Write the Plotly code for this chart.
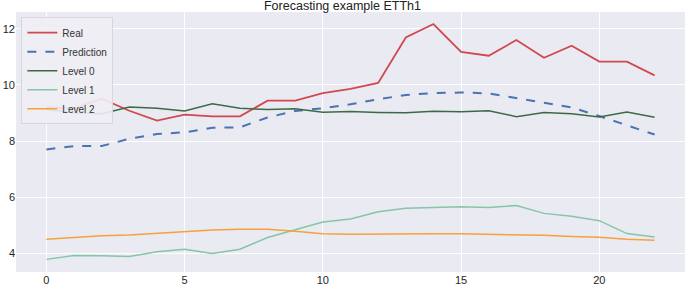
import plotly.graph_objects as go

steps = list(range(23))
real = [9.22, 9.16, 9.51, 9.08, 8.73, 8.94, 8.88, 8.88, 9.44, 9.44, 9.71, 9.86, 10.07,
        11.69, 12.17, 11.18, 11.04, 11.60, 10.97, 11.40, 10.83, 10.83, 10.34]
prediction = [7.70, 7.82, 7.82, 8.08, 8.25, 8.31, 8.47, 8.49, 8.84, 9.07, 9.17, 9.31, 9.49,
              9.64, 9.71, 9.73, 9.70, 9.54, 9.38, 9.20, 8.89, 8.55, 8.23]
level0 = [9.12, 9.01, 8.97, 9.21, 9.17, 9.07, 9.33, 9.17, 9.12, 9.15, 9.03, 9.05, 9.02,
          9.01, 9.06, 9.04, 9.08, 8.87, 9.02, 8.97, 8.86, 9.03, 8.85]
level1 = [3.78, 3.92, 3.91, 3.88, 4.05, 4.14, 3.99, 4.14, 4.56, 4.84, 5.11, 5.22, 5.48,
          5.60, 5.62, 5.66, 5.63, 5.70, 5.42, 5.32, 5.16, 4.70, 4.58]
level2 = [4.50, 4.57, 4.62, 4.65, 4.71, 4.78, 4.83, 4.85, 4.85, 4.78, 4.69, 4.68, 4.69,
          4.69, 4.69, 4.69, 4.68, 4.66, 4.64, 4.60, 4.57, 4.50, 4.46]
x_ticks = [0, 5, 10, 15, 20]
y_ticks = [4, 6, 8, 10, 12]

series = [
    ("Real", real, "#D0494E", "solid", 1.8),
    ("Prediction", prediction, "#4C72B0", "dash", 2.0),
    ("Level 0", level0, "#3B6B45", "solid", 1.5),
    ("Level 1", level1, "#84C6A6", "solid", 1.5),
    ("Level 2", level2, "#F7A03C", "solid", 1.5),
]

FONT = "Liberation Sans, Arial, sans-serif"

fig = go.Figure()
for name, vals, color, dash, w in series:
    fig.add_trace(go.Scatter(x=steps, y=vals, mode="lines", name=name,
                             line=dict(color=color, dash=dash, width=w)))

fig.update_layout(
    width=685, height=285,
    margin=dict(l=16, r=0, t=12, b=13),
    paper_bgcolor="white",
    plot_bgcolor="#EAEAF2",
    font=dict(family=FONT, size=11, color="#262626"),
    title=dict(text="Forecasting example ETTh1", x=0.5, xanchor="center",
               y=1 - 6 / 285, yanchor="middle", yref="container",
               font=dict(family=FONT, size=12.5, color="#222222")),
    showlegend=True,
    legend=dict(x=0.008, y=0.98, xanchor="left", yanchor="top",
                bgcolor="rgba(238,238,244,0.9)", bordercolor="#D6D6DE", borderwidth=1,
                font=dict(family=FONT, size=10, color="#333333"), tracegroupgap=0),
)
fig.update_xaxes(range=[-1.1, 23.1], tickvals=x_ticks,
                 showgrid=True, gridcolor="white", gridwidth=1, zeroline=False,
                 showline=False, ticks="", automargin=False, tickfont=dict(size=11))
fig.update_yaxes(range=[3.33, 12.6], tickvals=y_ticks,
                 showgrid=True, gridcolor="white", gridwidth=1, zeroline=False,
                 showline=False, ticks="", automargin=False, tickfont=dict(size=11))

fig.write_html("out.html", config={"displayModeBar": False},
               post_script="document.body.style.margin='0';")
